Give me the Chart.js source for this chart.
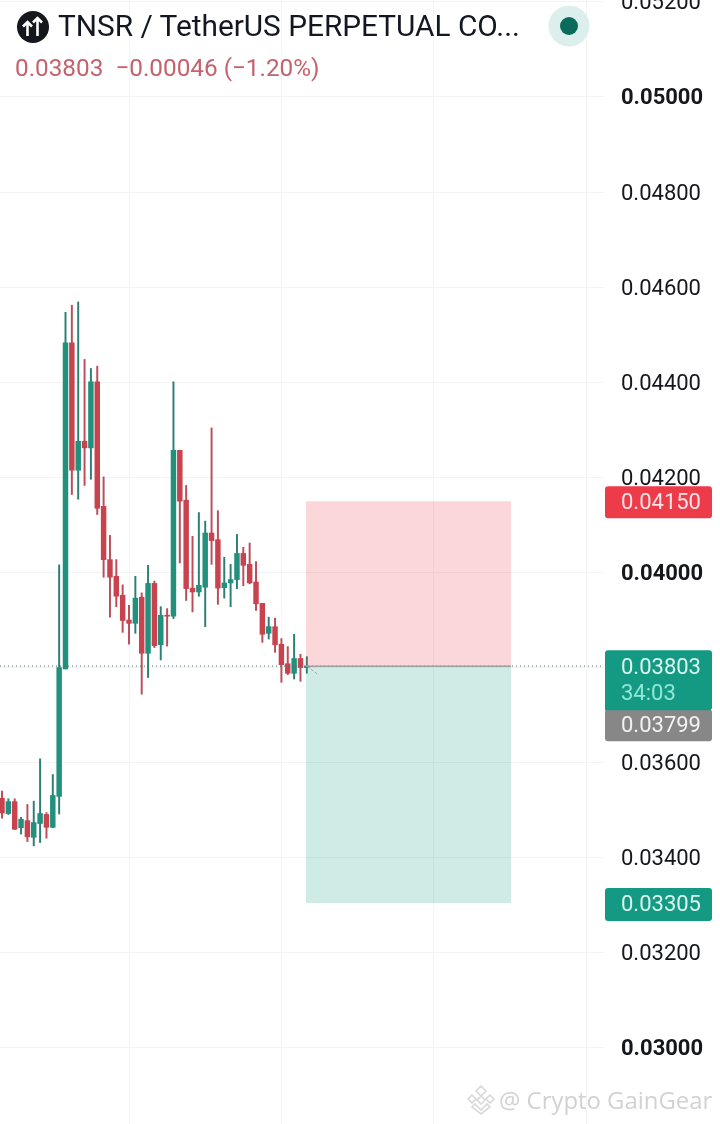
<!DOCTYPE html>
<html>
<head>
<meta charset="utf-8">
<title>TNSR / TetherUS</title>
<script src="https://cdn.jsdelivr.net/npm/chart.js@4"></script>
<style>
    html, body { margin: 0; padding: 0; background: #fff; overflow: hidden; }
    #wrap { position: relative; width: 720px; height: 1124px; font-family: Roboto, sans-serif; }
    #wrap canvas { position: absolute; left: 0; top: 0; }
    .abs { position: absolute; white-space: pre; }
    #title { left: 58px; top: 9px; font-size: 29.8px; line-height: 34px; color: #131722; }
    #quote { left: 15px; top: 54px; font-size: 24.3px; line-height: 28px; color: #c4626d; }
    #mark { left: 499px; top: 1084px; font-family: "Open Sans", sans-serif; font-size: 23.9px; line-height: 32px; color: #d2d2d2; }
</style>
</head>
<body>
<div id="wrap">
    <canvas id="candles"></canvas>
    <svg class="abs" style="left:17px;top:11px" width="32" height="32" viewBox="0 0 32 32">
        <circle cx="16" cy="16" r="16" fill="#14171c"/>
        <path d="M11 26V12M6.5 16.5L11 12l4.5 4.5M21 26V8M16.5 12.5L21 8l4.5 4.5" transform="translate(-0.5 -1)" stroke="#fff" stroke-width="2.6" fill="none"/>
    </svg>
    <div class="abs" id="title">TNSR / TetherUS PERPETUAL CO...</div>
    <div class="abs" id="quote">0.03803  −0.00046 (−1.20%)</div>
    <svg class="abs" style="left:548px;top:5px" width="42" height="42" viewBox="0 0 42 42">
        <circle cx="21" cy="21" r="20.5" fill="#dcefec"/>
        <circle cx="21" cy="21" r="9" fill="#0b6b5a"/>
    </svg>
    <svg class="abs" style="left:466px;top:1085px" width="30" height="30" viewBox="0 0 30 30">
        <path d="M15 1l5 5-5 5-5-5zM6 10l4 4-4 4-4-4zM24 10l4 4-4 4-4-4zM15 11l4 4-4 4-4-4zM9 19l6 6 6-6 3 3-9 7-9-7z" fill="none" stroke="#d9d9d9" stroke-width="1.6"/>
    </svg>
    <div class="abs" id="mark">@ Crypto GainGear</div>
</div>
<script>
const opens = [0.03525, 0.03493, 0.03518, 0.03463, 0.03478, 0.03443, 0.03472, 0.03491, 0.03464, 0.03529,
    0.03797, 0.04483, 0.04215, 0.04276, 0.04262, 0.04401, 0.04139, 0.04027, 0.03992, 0.03952,
    0.03900, 0.03893, 0.03948, 0.03830, 0.03977, 0.03848, 0.03910, 0.03908, 0.04257, 0.04152,
    0.03967, 0.03959, 0.03969, 0.04083, 0.04069, 0.03968, 0.03978, 0.03985, 0.04040, 0.04017,
    0.03980, 0.03935, 0.03872, 0.03886, 0.03849, 0.03808, 0.03788, 0.03819, 0.03800];
const closes = [0.03494, 0.03518, 0.03460, 0.03481, 0.03444, 0.03474, 0.03493, 0.03464, 0.03531, 0.03800,
    0.04483, 0.04215, 0.04276, 0.04262, 0.04401, 0.04135, 0.04027, 0.03990, 0.03950, 0.03899,
    0.03893, 0.03946, 0.03830, 0.03977, 0.03846, 0.03910, 0.03908, 0.04257, 0.04150, 0.03966,
    0.03959, 0.03973, 0.04083, 0.04067, 0.03967, 0.03978, 0.03985, 0.04040, 0.04015, 0.03978,
    0.03934, 0.03870, 0.03886, 0.03848, 0.03806, 0.03788, 0.03819, 0.03800, 0.03803];
const highs = [0.03540, 0.03524, 0.03524, 0.03485, 0.03512, 0.03519, 0.03608, 0.03495, 0.03575, 0.04016,
    0.04547, 0.04562, 0.04569, 0.04448, 0.04429, 0.04434, 0.04201, 0.04078, 0.04027, 0.03974,
    0.03931, 0.03992, 0.03957, 0.04015, 0.03982, 0.03928, 0.03924, 0.04401, 0.04257, 0.04183,
    0.04076, 0.04126, 0.04108, 0.04304, 0.04130, 0.04032, 0.04017, 0.04080, 0.04053, 0.04062,
    0.04023, 0.03935, 0.03906, 0.03904, 0.03861, 0.03844, 0.03870, 0.03828, 0.03823];
const lows = [0.03483, 0.03491, 0.03459, 0.03450, 0.03434, 0.03425, 0.03432, 0.03441, 0.03463, 0.03492,
    0.03797, 0.04164, 0.04154, 0.04183, 0.04196, 0.04122, 0.03990, 0.03906, 0.03928, 0.03874,
    0.03849, 0.03872, 0.03744, 0.03779, 0.03842, 0.03816, 0.03845, 0.03903, 0.04020, 0.03941,
    0.03917, 0.03950, 0.03886, 0.04017, 0.03933, 0.03946, 0.03928, 0.03966, 0.03972, 0.03976,
    0.03920, 0.03853, 0.03860, 0.03832, 0.03769, 0.03785, 0.03776, 0.03771, 0.03788];

const priceTicks = [0.03, 0.032, 0.034, 0.036, 0.038, 0.04, 0.042, 0.044, 0.046, 0.048, 0.05, 0.052];
const boldTicks = ['0.03000', '0.04000', '0.05000'];
const timeTicks = [20, 44, 68, 92];

const lastPrice = 0.03803;
const stopPrice = 0.0415;
const targetPrice = 0.03305;
const markPrice = 0.03799;
const countdown = '34:03';
const boxStart = 47.87;
const boxEnd = 80.16;

const GREEN = '#21907c';
const RED = '#c9434f';
const WICK_GREEN = '#2c7f73';
const WICK_RED = '#bb4c58';

const xMin = -0.315;
const xMax = 94.8;
const yMin = 0.0284;
const yMax = 0.05204;

const candleColors = opens.map((o, i) => closes[i] >= o ? GREEN : RED);
const wickColors = opens.map((o, i) => closes[i] >= o ? WICK_GREEN : WICK_RED);
const wicks = opens.map((o, i) => ({ x: i, y: [lows[i], highs[i]] }));
const bodies = opens.map((o, i) => ({ x: i, y: [o, closes[i]] }));

function boxLine(price, color) {
    return {
        type: 'line',
        data: [{ x: boxStart, y: price }, { x: boxEnd, y: price }],
        borderWidth: 0,
        pointRadius: 0,
        fill: { value: lastPrice },
        backgroundColor: color
    };
}

// price badges on the right axis, stacked the way the app does it
const priceBadges = {
    id: 'priceBadges',
    afterDraw(chart) {
        const ctx = chart.ctx;
        const y = chart.scales.y;
        const left = 605, width = 107;

        function badge(top, height, color, radius) {
            ctx.fillStyle = color;
            ctx.beginPath();
            ctx.roundRect(left, top, width, height, radius);
            ctx.fill();
        }
        function label(text, yPos, color) {
            ctx.fillStyle = color;
            ctx.font = '22px Roboto, sans-serif';
            ctx.textAlign = 'left';
            ctx.textBaseline = 'middle';
            ctx.fillText(text, 621, yPos);
        }

        const stopY = y.getPixelForValue(stopPrice);
        badge(stopY - 15, 32, '#ee3b4a', 3);
        label(stopPrice.toFixed(5), stopY + 2, '#fde3e5');

        const lastY = y.getPixelForValue(lastPrice);
        badge(lastY + 43, 32, '#878787', 3);
        label(markPrice.toFixed(5), lastY + 60, '#f2f2f2');
        badge(lastY - 16, 60, '#149a83', [3, 3, 3, 0]);
        label(lastPrice.toFixed(5), lastY + 2.5, '#d8f5ef');
        label(countdown, lastY + 28.5, '#8fe8d6');

        const targetY = y.getPixelForValue(targetPrice);
        badge(targetY - 15, 33, '#149a83', 3);
        label(targetPrice.toFixed(5), targetY + 2.5, '#d8f5ef');
    }
};

const config = {
    type: 'bar',
    data: {
        datasets: [
            { data: wicks, backgroundColor: wickColors, barThickness: 1.3, grouped: false, order: 3 },
            { data: bodies, backgroundColor: candleColors, barThickness: 4.8, minBarLength: 1, grouped: false, order: 2 },
            Object.assign(boxLine(stopPrice, 'rgba(242, 54, 69, 0.2)'), { order: 1 }),
            Object.assign(boxLine(targetPrice, 'rgba(8, 153, 129, 0.2)'), { order: 1 }),
            {
                type: 'line',
                data: [{ x: boxStart, y: lastPrice }, { x: boxEnd, y: lastPrice }],
                borderColor: '#a0a0a0',
                borderWidth: 1.5,
                pointRadius: 0,
                order: 0
            },
            {
                type: 'line',
                data: [{ x: xMin, y: lastPrice }, { x: xMax, y: lastPrice }],
                borderColor: '#4d6b66',
                borderWidth: 1,
                borderDash: [1, 3],
                pointRadius: 0,
                order: 0
            },
            {
                type: 'line',
                data: [{ x: 48, y: 0.03803 }, { x: 49.6, y: 0.03787 }],
                borderColor: '#9aa5a3',
                borderWidth: 1,
                borderDash: [3, 2],
                pointRadius: 0,
                order: 0
            }
        ]
    },
    options: {
        responsive: true,
        maintainAspectRatio: false,
        animation: false,
        events: [],
        layout: { padding: 0 },
        plugins: {
            legend: { display: false },
            tooltip: { enabled: false }
        },
        scales: {
            x: {
                type: 'linear',
                offset: false,
                min: xMin,
                max: xMax,
                border: { display: false },
                grid: { color: '#f3f4f4', lineWidth: 1, drawTicks: false, offset: false },
                ticks: { display: false },
                afterBuildTicks(axis) {
                    axis.ticks = timeTicks.map(v => ({ value: v }));
                },
                afterFit(axis) {
                    axis.height = 0;
                    axis.paddingLeft = 0;
                    axis.paddingRight = 0;
                }
            },
            y: {
                position: 'right',
                min: yMin,
                max: yMax,
                border: { display: false },
                grid: { color: '#f3f4f4', lineWidth: 1, drawTicks: false },
                ticks: {
                    autoSkip: false,
                    padding: 17,
                    labelOffset: 2,
                    color: '#15171c',
                    callback: v => v.toFixed(5),
                    font: function(context) {
                        const bold = context.tick && boldTicks.includes(context.tick.value.toFixed(5));
                        return { family: 'Roboto, sans-serif', size: 22, weight: bold ? 'bold' : 'normal' };
                    }
                },
                afterBuildTicks(axis) {
                    axis.ticks = priceTicks.map(v => ({ value: v }));
                },
                afterFit(axis) {
                    axis.width = 116;
                    axis.paddingTop = 0;
                    axis.paddingBottom = 0;
                }
            }
        }
    },
    plugins: [priceBadges]
};

const wrap = document.getElementById('candles').getContext('2d');
const candleChart = new Chart(wrap, config);
</script>
</body>
</html>
